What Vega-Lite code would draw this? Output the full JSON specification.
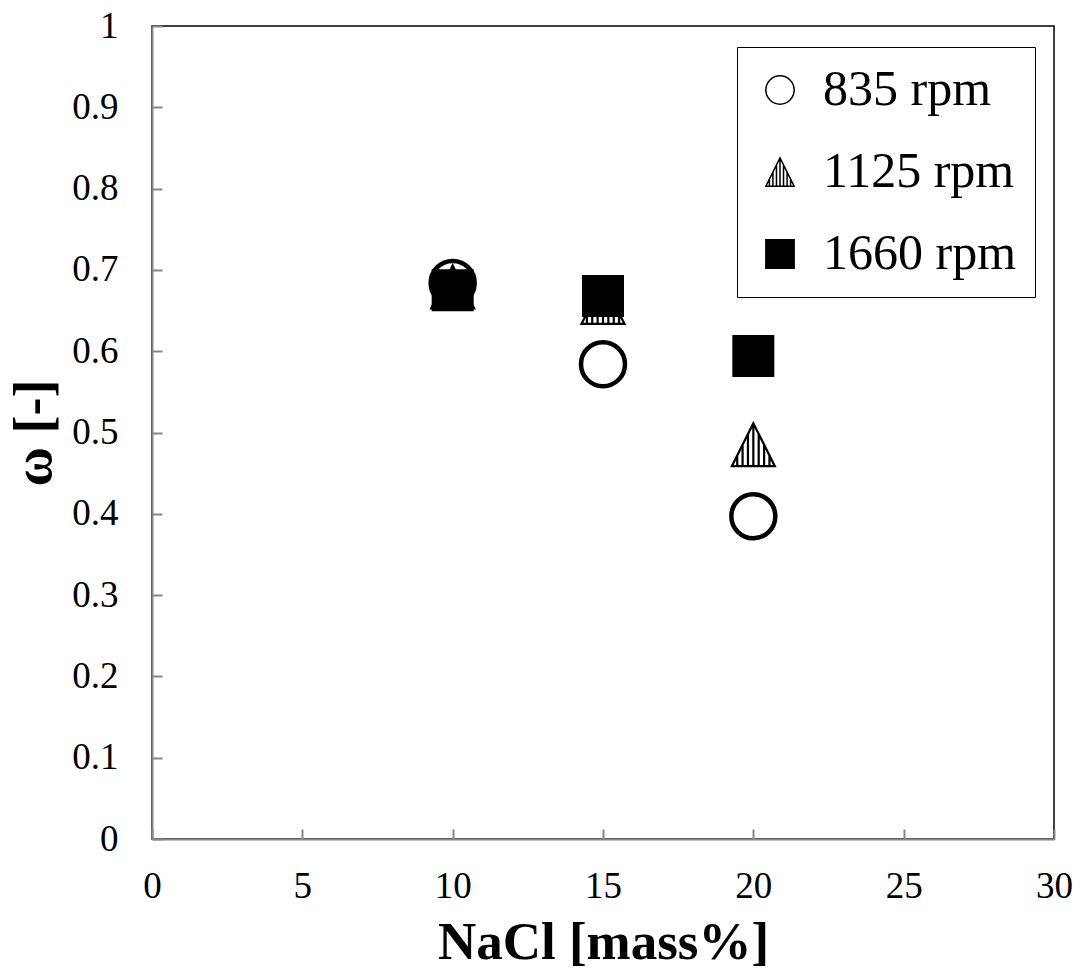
{
  "$schema": "https://vega.github.io/schema/vega-lite/v6.json",
  "autosize": "none",
  "width": 902,
  "height": 813,
  "padding": {"left": 152, "top": 26, "right": 27, "bottom": 140},
  "background": "white",
  "config": {
    "font": "Liberation Serif",
    "view": {"stroke": "black", "strokeWidth": 1.5},
    "axis": {
      "domainColor": "#888888",
      "domainWidth": 2,
      "tickColor": "#888888",
      "tickWidth": 2,
      "tickSize": -10,
      "grid": false,
      "labelColor": "black",
      "titleColor": "black"
    }
  },
  "data": {
    "values": [
      {"series": "835 rpm", "nacl": 10, "omega": 0.684},
      {"series": "835 rpm", "nacl": 15, "omega": 0.584},
      {"series": "835 rpm", "nacl": 20, "omega": 0.397},
      {"series": "1125 rpm", "nacl": 10, "omega": 0.679},
      {"series": "1125 rpm", "nacl": 15, "omega": 0.66},
      {"series": "1125 rpm", "nacl": 20, "omega": 0.485},
      {"series": "1660 rpm", "nacl": 10, "omega": 0.675},
      {"series": "1660 rpm", "nacl": 15, "omega": 0.668},
      {"series": "1660 rpm", "nacl": 20, "omega": 0.594}
    ]
  },
  "mark": {"type": "point", "filled": false, "stroke": "black", "opacity": 1},
  "encoding": {
    "x": {
      "field": "nacl",
      "type": "quantitative",
      "scale": {"domain": [0, 30], "nice": false, "zero": true},
      "axis": {"values": [0, 5, 10, 15, 20, 25, 30], "title": "NaCl [mass%]", "labelFont": "Liberation Serif", "labelFontSize": 37, "titleFont": "Liberation Serif", "titleFontSize": 53, "titleFontWeight": "bold", "labelPadding": 39, "titlePadding": 12, "labelFlush": false}
    },
    "y": {
      "field": "omega",
      "type": "quantitative",
      "scale": {"domain": [0, 1], "nice": false},
      "axis": {"values": [0, 0.1, 0.2, 0.3, 0.4, 0.5, 0.6, 0.7, 0.8, 0.9, 1], "format": ".1~f", "title": "ω [-]", "labelFont": "Liberation Serif", "labelFontSize": 37, "titleFont": "Liberation Serif", "titleFontSize": 54, "titleFontWeight": "bold", "labelPadding": 44, "titlePadding": 10, "labelFlush": false}
    },
    "shape": {
      "field": "series",
      "type": "nominal",
      "sort": ["835 rpm", "1125 rpm", "1660 rpm"],
      "scale": {
        "domain": ["835 rpm", "1125 rpm", "1660 rpm"],
        "range": ["circle", "M0,-1L1,1L-1,1Z M-0.75,0.5L-0.75,1 M-0.5,0L-0.5,1 M-0.25,-0.5L-0.25,1 M0,-1L0,1 M0.25,-0.5L0.25,1 M0.5,0L0.5,1 M0.75,0.5L0.75,1", "square"]
      },
      "legend": {
        "title": null,
        "orient": "none",
        "legendX": 585,
        "legendY": 21,
        "strokeColor": "black",
        "fillColor": "white",
        "padding": 18,
        "labelFont": "Liberation Serif",
        "labelFontSize": 50,
        "labelColor": "black",
        "labelOffset": 18,
        "labelLimit": 400,
        "rowPadding": 32,
        "symbolSize": 800,
        "encode": {
          "symbols": {
            "enter": {"stroke": {"value": "black"}, "strokeWidth": {"value": 4}},
            "update": {"stroke": {"value": "black"}, "strokeWidth": {"value": 4}}
          }
        }
      }
    },
    "fill": {
      "field": "series",
      "type": "nominal",
      "scale": {"domain": ["835 rpm", "1125 rpm", "1660 rpm"], "range": ["white", "white", "black"]},
      "legend": {"title": null}
    },
    "size": {
      "condition": [
        {"test": "datum.series === '835 rpm'", "value": 1936},
        {"test": "datum.series === '1125 rpm'", "value": 1850}
      ],
      "value": 1600
    },
    "strokeWidth": {
      "condition": [
        {"test": "datum.series === '1125 rpm'", "value": 2.2},
        {"test": "datum.series === '1660 rpm'", "value": 2}
      ],
      "value": 4.5
    }
  }
}
